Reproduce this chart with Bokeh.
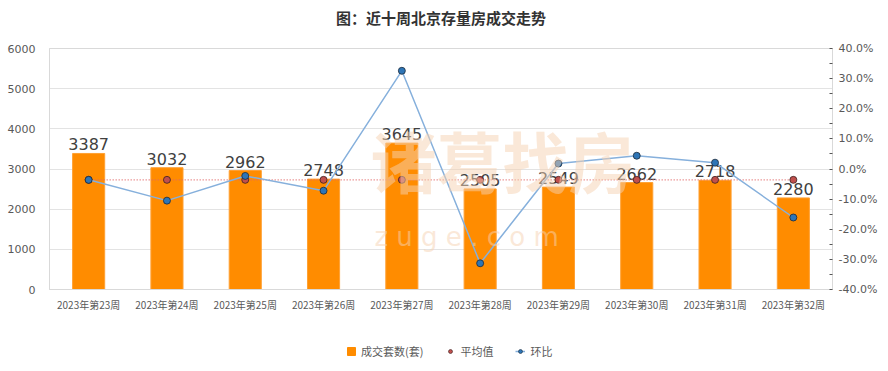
from bokeh.plotting import figure
from bokeh.layouts import column
from bokeh.models import (ColumnDataSource, Range1d, LinearAxis, FixedTicker,
                          PrintfTickFormatter, Legend, LegendItem, Label)
from bokeh.core.properties import value
from bokeh.embed import file_html
from bokeh.resources import INLINE

title_text = "图：近十周北京存量房成交走势"
weeks = ["2023年第23周", "2023年第24周", "2023年第25周", "2023年第26周", "2023年第27周",
         "2023年第28周", "2023年第29周", "2023年第30周", "2023年第31周", "2023年第32周"]
deals = [3387, 3032, 2962, 2748, 3645, 2505, 2549, 2662, 2718, 2280]
mom = [-3.6, -10.5, -2.3, -7.2, 32.6, -31.3, 1.8, 4.4, 2.1, -16.1]
avg_val = -3.6
left_ticks = [0, 1000, 2000, 3000, 4000, 5000, 6000]
right_ticks = [-40, -30, -20, -10, 0, 10, 20, 30, 40]
right_minor = [-35, -25, -15, -5, 5, 15, 25, 35]

CJK = "Noto Sans CJK SC"
BAR_C = "#FF8C00"
AVG_C = "#c0504d"
MOM_LINE_C = "#86b0dc"
MOM_PT_C = "#2e75b6"

src = ColumnDataSource(dict(week=weeks, deals=deals, label=[str(v) for v in deals],
                            mom=mom, avg=[avg_val] * len(weeks)))

# title strip
tf = figure(x_range=Range1d(0, 1), y_range=Range1d(0, 1), width=888, height=34,
            output_backend="svg", toolbar_location=None, x_axis_type=None, y_axis_type=None,
            min_border_left=0, min_border_right=0, min_border_top=0, min_border_bottom=0)
tf.grid.visible = False
tf.outline_line_color = None
tf.background_fill_color = "white"
tf.border_fill_color = "white"
tf.add_layout(Label(x=0.5, y=0.5, text=title_text, text_align="center", text_baseline="middle",
                    text_font=CJK, text_font_size="15px", text_font_style="bold",
                    text_color="#333333"))

p = figure(x_range=weeks, y_range=Range1d(0, 6000), frame_width=783, frame_height=241,
           output_backend="svg", toolbar_location=None,
           min_border_left=49, min_border_right=56, min_border_top=14, min_border_bottom=30)
p.extra_y_ranges = {"pct": Range1d(-40, 40)}

p.background_fill_color = "white"
p.border_fill_color = "white"
p.outline_line_color = "#d9d9d9"

# watermark
p.add_layout(Label(x=4.1, y=2050, text="诸葛找房",
                   text_font=CJK, text_font_size="66px", text_color="#f6d2b2",
                   text_alpha=0.5, text_font_style="bold"))
p.add_layout(Label(x=4.15, y=946, text="z   u   g   e   .   c   o   m",
                   text_font="DejaVu Sans", text_font_size="26px", text_color="#f6d2b2",
                   text_alpha=0.5))

bars = p.vbar(x="week", top="deals", width=0.41, source=src, fill_color=BAR_C,
              line_color="#FFA033", line_width=1)
p.text(x="week", y="deals", text="label", source=src, text_align="center",
       text_baseline="bottom", y_offset=-3, text_font_size="16px",
       text_color="#404040", text_font=value("DejaVu Sans"))

p.line(x="week", y="avg", source=src, y_range_name="pct",
       line_color="#e06666", line_dash="1 2", line_width=1.2)
p.scatter(x="week", y="avg", source=src, y_range_name="pct", size=7,
          fill_color=AVG_C, line_color="#3a1f1f", line_width=0.8)
p.line(x="week", y="mom", source=src, y_range_name="pct",
       line_color=MOM_LINE_C, line_width=1.5)
p.scatter(x="week", y="mom", source=src, y_range_name="pct", size=7,
          fill_color=MOM_PT_C, line_color="#1a2a3a", line_width=0.8)

# axes
p.yaxis.ticker = FixedTicker(ticks=left_ticks)
p.yaxis.axis_line_color = "#d9d9d9"
p.yaxis.major_tick_line_color = None
p.yaxis.minor_tick_line_color = None
p.yaxis.major_label_text_font = "DejaVu Sans"
p.yaxis.major_label_text_font_size = "11px"
p.yaxis.major_label_text_color = "#595959"
p.yaxis.major_label_standoff = 8

ra = LinearAxis(y_range_name="pct",
                ticker=FixedTicker(ticks=right_ticks, minor_ticks=right_minor),
                formatter=PrintfTickFormatter(format="%.1f%%"))
ra.axis_line_color = "#d9d9d9"
ra.major_tick_line_color = "#555555"
ra.major_tick_in = 3
ra.major_tick_out = 0
ra.minor_tick_line_color = "#555555"
ra.minor_tick_in = 3
ra.minor_tick_out = 0
ra.major_label_text_font = "DejaVu Sans"
ra.major_label_text_font_size = "11px"
ra.major_label_text_color = "#595959"
ra.major_label_standoff = 6
p.add_layout(ra, "right")

p.xaxis.axis_line_color = "#d9d9d9"
p.xaxis.major_tick_line_color = None
p.xaxis.minor_tick_line_color = None
p.xaxis.major_label_text_font = CJK
p.xaxis.major_label_text_font_size = "10px"
p.xaxis.major_label_text_color = "#595959"
p.xaxis.major_label_standoff = 1

p.xgrid.grid_line_color = None
p.ygrid.grid_line_color = "#e3e3e3"

# legend strip (same series, drawn outside its visible range so only the legend shows)
lg = figure(x_range=weeks, y_range=Range1d(10000, 10001), width=888, height=52,
            output_backend="svg", toolbar_location=None, x_axis_type=None, y_axis_type=None,
            min_border_left=0, min_border_right=0, min_border_top=0, min_border_bottom=0)
lg.grid.visible = False
lg.outline_line_color = None
lg.background_fill_color = "white"
lg.border_fill_color = "white"
lg_bar = lg.vbar(x="week", top="deals", width=0.41, source=src, fill_color=BAR_C, line_color=BAR_C)
lg_avg = lg.scatter(x="week", y="avg", source=src, size=5, fill_color=AVG_C, line_color="#3a1f1f",
                    line_width=0.6)
lg_line = lg.line(x="week", y="mom", source=src, line_color=MOM_LINE_C, line_width=1.5)
lg_pt = lg.scatter(x="week", y="mom", source=src, size=5, fill_color=MOM_PT_C, line_color="#1a2a3a",
                   line_width=0.6)

legend = Legend(items=[
    LegendItem(label="成交套数(套)", renderers=[lg_bar]),
    LegendItem(label="平均值", renderers=[lg_avg]),
    LegendItem(label="环比", renderers=[lg_line, lg_pt]),
], orientation="horizontal", location=(297, 12))
legend.label_text_font = CJK
legend.label_text_font_size = "11px"
legend.label_text_color = "#595959"
legend.glyph_width = 10
legend.glyph_height = 10
legend.spacing = 22
legend.padding = 4
legend.margin = 0
legend.border_line_color = None
legend.background_fill_alpha = 0
lg.add_layout(legend, "center")

layout = column(tf, p, lg, spacing=0)
open("out.html", "w").write(file_html(layout, INLINE))
